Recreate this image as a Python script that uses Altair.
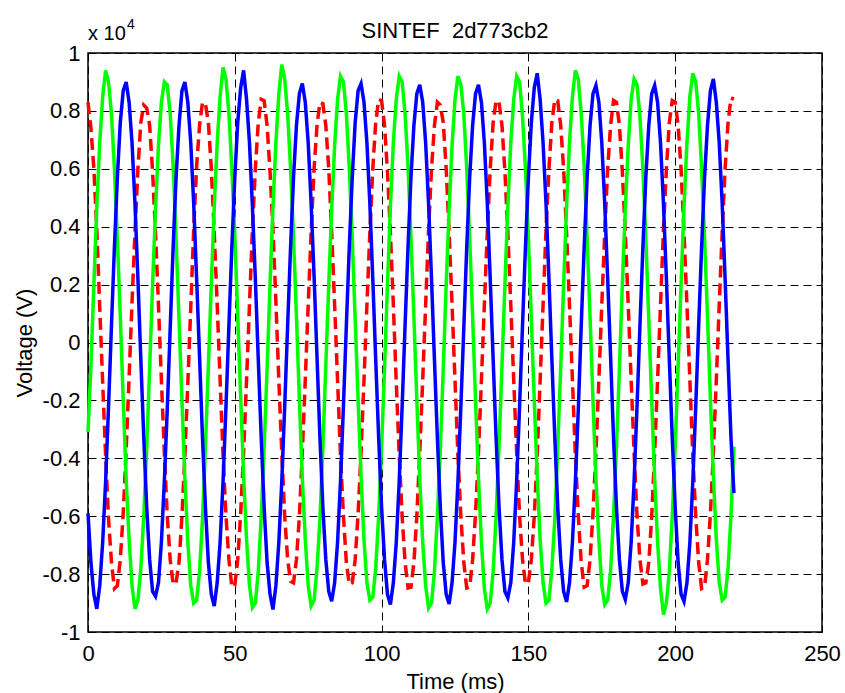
import altair as alt
import pandas as pd

# sampling times (ms)
T_MS = list(range(0, 221))

# phase voltages (V)
RED = [
    8300, 7400, 6000, 3900, 1200, -1400, -3900, -6100, -7600, -8500, -8400, -7500, -5900, -3700, -1200, 1400, 3800, 6000, 7600, 8200,
    8100, 7500, 5900, 3800, 1300, -1300, -3800, -6000, -7500, -8360, -8300, -7600, -6000, -3900, -1400, 1200, 3900, 6100, 7500, 8300,
    8250, 7600, 6000, 3800, 1300, -1300, -3900, -6000, -7500, -8450, -8400, -7500, -5900, -3800, -1300, 1300, 3900, 6000, 7600, 8400,
    8350, 7500, 5900, 3900, 1400, -1300, -3800, -6000, -7500, -8250, -8300, -7500, -6000, -3800, -1300, 1300, 3800, 6000, 7500, 8300,
    8250, 7500, 6000, 3800, 1300, -1300, -3900, -6000, -7600, -8360, -8300, -7500, -5900, -3800, -1300, 1300, 3800, 6000, 7600, 8400,
    8350, 7500, 5900, 3800, 1300, -1400, -3900, -6000, -7600, -8480, -8450, -7600, -6000, -3800, -1300, 1300, 3900, 6000, 7500, 8300,
    8200, 7600, 6000, 3800, 1300, -1300, -3900, -6000, -7600, -8480, -8450, -7500, -5900, -3800, -1300, 1300, 3800, 6000, 7600, 8360,
    8300, 7500, 5900, 3800, 1300, -1300, -3800, -6000, -7500, -8340, -8300, -7500, -6000, -3900, -1300, 1300, 3900, 6000, 7600, 8400,
    8350, 7500, 6000, 3800, 1300, -1300, -3900, -6000, -7600, -8450, -8400, -7500, -5900, -3800, -1300, 1300, 3800, 6000, 7500, 8360,
    8300, 7500, 5900, 3800, 1300, -1300, -3800, -6000, -7500, -8340, -8300, -7600, -6000, -3800, -1300, 1300, 3900, 6000, 7600, 8360,
    8300, 7500, 6000, 3800, 1300, -1300, -3900, -6000, -7600, -8500, -8450, -7500, -5900, -3800, -1300, 1300, 3800, 6000, 7600, 8450,
    8400,
]

GREEN = [
    -3100, -800, 2000, 4700, 6900, 8500, 9400, 9000, 7900, 6000, 3600, 900, -2000, -4700, -6800, -8400, -9200, -8900, -7800, -6000,
    -3600, -900, 2000, 4600, 6800, 8300, 9000, 8900, 7900, 6100, 3600, 800, -2000, -4700, -6900, -8400, -9000, -8900, -7900, -6100,
    -3600, -800, 2000, 4700, 6900, 8500, 9500, 9100, 7900, 6000, 3700, 900, -1900, -4600, -6800, -8400, -9150, -9000, -7900, -6000,
    -3600, -900, 2000, 4700, 6900, 8600, 9600, 9100, 7900, 6000, 3600, 900, -2000, -4700, -6800, -8400, -9100, -8900, -7800, -6100,
    -3600, -800, 2000, 4600, 6800, 8400, 9200, 9000, 7900, 6000, 3600, 800, -2000, -4600, -6800, -8300, -8900, -8800, -7800, -6000,
    -3600, -900, 2000, 4700, 6900, 8400, 9200, 9000, 7900, 6100, 3600, 900, -2000, -4700, -6900, -8400, -9170, -9000, -7900, -6000,
    -3700, -900, 2000, 4600, 6800, 8400, 9200, 8900, 7900, 6000, 3600, 900, -2000, -4700, -6900, -8500, -9200, -9000, -7900, -6000,
    -3600, -800, 2000, 4700, 6900, 8400, 9200, 9000, 7800, 6000, 3600, 800, -2000, -4600, -6800, -8300, -9000, -8900, -7800, -6100,
    -3600, -900, 2000, 4700, 6900, 8500, 9400, 9100, 7900, 6100, 3600, 900, -2000, -4700, -6800, -8400, -9050, -8900, -7900, -6000,
    -3600, -900, 2000, 4600, 6800, 8400, 9100, 8900, 7800, 6000, 3600, 800, -2000, -4700, -6900, -8500, -9400, -9000, -7900, -6000,
    -3600, -800, 2000, 4700, 6900, 8500, 9300, 9000, 7900, 6000, 3600, 900, -2000, -4600, -6800, -8300, -8900, -8800, -7800, -6000,
    -3600,
]

BLUE = [
    -5900, -7600, -8700, -9200, -8400, -6900, -4800, -2200, 600, 3300, 5700, 7600, 8700, 9000, 8300, 6900, 4800, 2200, -600, -3300,
    -5700, -7500, -8600, -8770, -8300, -6900, -4800, -2300, 500, 3300, 5700, 7500, 8700, 9000, 8300, 6900, 4800, 2200, -500, -3300,
    -5700, -7600, -8700, -9100, -8300, -6900, -4800, -2200, 600, 3300, 5700, 7600, 8800, 9400, 8400, 6900, 4700, 2200, -600, -3300,
    -5700, -7600, -8700, -9220, -8400, -6900, -4800, -2200, 600, 3300, 5700, 7500, 8600, 8950, 8300, 6900, 4800, 2300, -500, -3300,
    -5700, -7500, -8600, -8940, -8300, -6900, -4800, -2200, 600, 3300, 5700, 7600, 8700, 8940, 8300, 6900, 4800, 2200, -600, -3300,
    -5700, -7500, -8700, -9050, -8300, -6900, -4800, -2200, 600, 3300, 5700, 7500, 8600, 8900, 8300, 6900, 4800, 2200, -600, -3300,
    -5700, -7600, -8700, -9030, -8300, -6900, -4800, -2200, 500, 3300, 5700, 7500, 8600, 8900, 8300, 6900, 4800, 2200, -600, -3300,
    -5700, -7500, -8600, -8820, -8300, -6900, -4800, -2200, 600, 3300, 5700, 7600, 8800, 9300, 8400, 6900, 4800, 2200, -600, -3300,
    -5700, -7500, -8600, -8960, -8300, -6900, -4800, -2300, 600, 3300, 5700, 7500, 8600, 8880, 8300, 6900, 4800, 2200, -500, -3300,
    -5700, -7500, -8600, -8880, -8300, -6900, -4800, -2200, 600, 3300, 5700, 7500, 8600, 8880, 8300, 6900, 4800, 2200, -600, -3300,
    -5700, -7600, -8700, -8940, -8300, -6900, -4800, -2200, 600, 3300, 5700, 7500, 8700, 9100, 8300, 6900, 4800, 2200, -600, -3300,
    -5200,
]

X_TICKS = [0, 50, 100, 150, 200, 250]
Y_TICKS = [-10000, -8000, -6000, -4000, -2000, 0, 2000, 4000, 6000, 8000, 10000]
TITLE = "SINTEF\u00a0 2d773cb2"
X_TITLE = "Time (ms)"
Y_TITLE = "Voltage (V)"

FONT = "Liberation Sans"
FS = 22

df = pd.DataFrame({
    "t": T_MS * 3,
    "v": RED + GREEN + BLUE,
    "phase": ["red"] * len(RED) + ["green"] * len(GREEN) + ["blue"] * len(BLUE),
})

x_enc = alt.X(
    "t:Q",
    scale=alt.Scale(domain=[0, 250], nice=False, zero=False),
    axis=alt.Axis(
        values=X_TICKS, title=X_TITLE, grid=True, gridDash=[8, 5], gridColor="#000",
        gridWidth=1, ticks=False, tickSize=0, domain=False, labelFlush=False,
        labelFont=FONT, labelFontSize=FS, labelColor="#000", labelPadding=11,
        titleFont=FONT, titleFontSize=FS, titleFontWeight="normal", titleColor="#000",
        titleY=56, titleBaseline="alphabetic",
    ),
)
y_enc = alt.Y(
    "v:Q",
    scale=alt.Scale(domain=[-10000, 10000], nice=False, zero=False),
    axis=alt.Axis(
        values=Y_TICKS, title=Y_TITLE, grid=True, gridDash=[8, 5], gridColor="#000",
        gridWidth=1, ticks=False, tickSize=0, domain=False, labelFlush=False,
        labelExpr="'' + datum.value / 10000",
        labelFont=FONT, labelFontSize=FS, labelColor="#000", labelPadding=8,
        titleFont=FONT, titleFontSize=FS, titleFontWeight="normal", titleColor="#000",
        titleAngle=270, titleX=-57, titleY=289.5, titleAlign="center",
        titleBaseline="alphabetic",
    ),
)

red = alt.Chart(df).transform_filter(alt.datum.phase == "red").mark_line(
    color="#ff0000", strokeWidth=3.5, strokeDash=[12, 6], strokeCap="butt"
).encode(x=x_enc, y=y_enc)
green = alt.Chart(df).transform_filter(alt.datum.phase == "green").mark_line(
    color="#00ff00", strokeWidth=3.5
).encode(x="t:Q", y="v:Q")
blue = alt.Chart(df).transform_filter(alt.datum.phase == "blue").mark_line(
    color="#0000ff", strokeWidth=3.5
).encode(x="t:Q", y="v:Q")

one = alt.Data(values=[{}])
title_txt = alt.Chart(one).mark_text(
    font=FONT, fontSize=FS, align="center", baseline="alphabetic", color="#000"
).encode(x=alt.value(367), y=alt.value(-15), text=alt.value(TITLE))
mult_txt = alt.Chart(one).mark_text(
    font=FONT, fontSize=20, align="left", baseline="alphabetic", color="#000"
).encode(x=alt.value(0), y=alt.value(-13), text=alt.value("x 10"))
exp_txt = alt.Chart(one).mark_text(
    font=FONT, fontSize=14, align="left", baseline="alphabetic", color="#000"
).encode(x=alt.value(39), y=alt.value(-24), text=alt.value("4"))

chart = alt.layer(red, green, blue, title_txt, mult_txt, exp_txt).properties(
    width=734, height=579,
    autosize=alt.AutoSizeParams(type="none"),
    padding={"left": 88, "top": 53, "right": 23, "bottom": 61},
    background="white",
).configure_view(stroke="#000", strokeWidth=1.5)

chart.save("out.html", embed_options={"renderer": "svg", "actions": False})
